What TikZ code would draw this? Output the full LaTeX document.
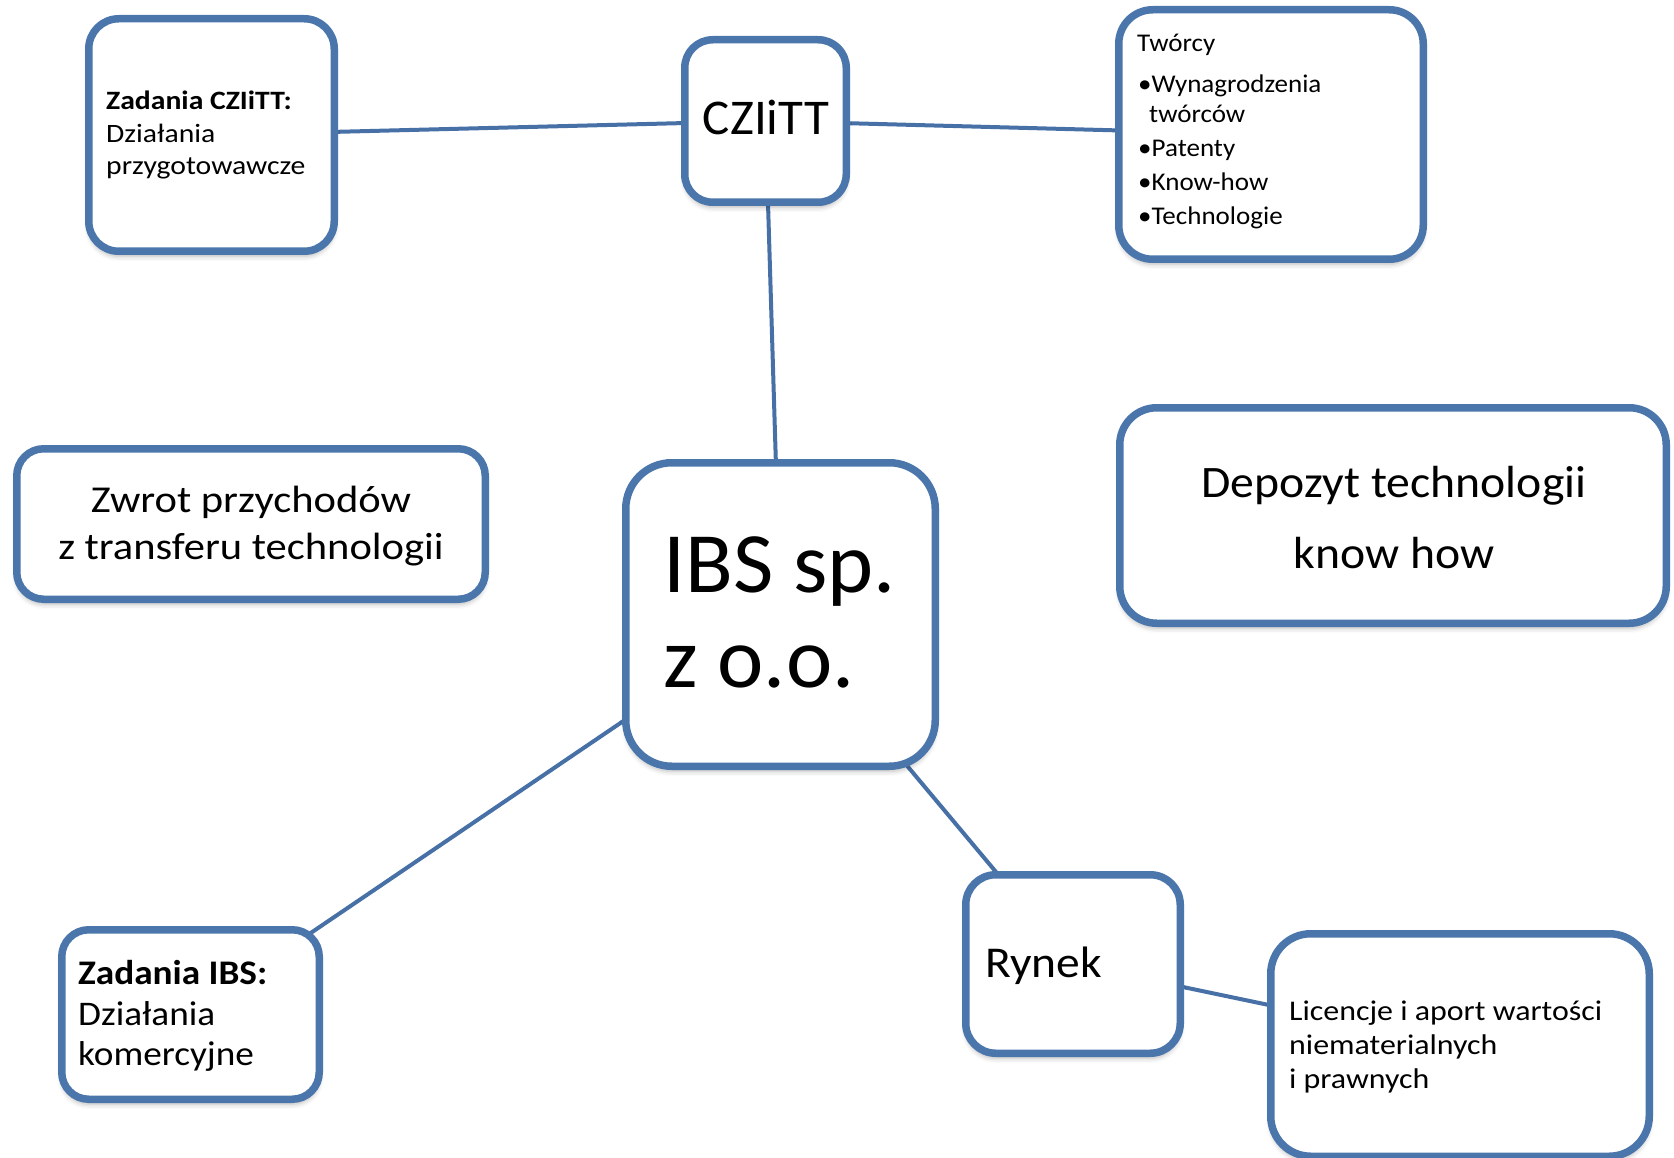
\documentclass[tikz,border=0pt]{standalone}
\usepackage{fontspec}
\setmainfont{Carlito}
\newfontfamily\stA[FakeStretch=1.12]{Carlito}
\newfontfamily\stB[FakeStretch=1.06]{Carlito}
\newfontfamily\stC[FakeStretch=1.08]{Carlito}
\newfontfamily\stD[FakeStretch=1.02]{Carlito}
\usetikzlibrary{shadows.blur}
\pgfdeclarelayer{background}
\pgfsetlayers{background,main}
\definecolor{bordblue}{RGB}{74,118,172}
\definecolor{lineblue}{RGB}{70,112,166}
\newcommand{\fs}[2]{\fontsize{#1}{#2}\selectfont}
\tikzset{
  box/.style={draw=bordblue, line width=7.5pt, fill=white, rectangle, inner sep=0pt,
    blur shadow={shadow xshift=0pt, shadow yshift=-5pt, shadow blur radius=5pt, shadow opacity=28}},
  conn/.style={draw=lineblue, line width=4pt},
  txt/.style={anchor=base west, inner sep=0pt, text=black},
  ctxt/.style={anchor=base, inner sep=0pt, text=black}
}
\begin{document}
\begin{tikzpicture}[x=1pt,y=-1pt]
\useasboundingbox (0,0) rectangle (1674,1158);
% boxes
\node[box, minimum width=245.5pt, minimum height=232.5pt, rounded corners=30pt] (zc) at (211.5,135) {};
\node[box, minimum width=161.5pt, minimum height=162.5pt, rounded corners=28pt] (cz) at (765.5,121) {};
\node[box, minimum width=304.5pt, minimum height=249.5pt, rounded corners=34pt] (tw) at (1271,134.5) {};
\node[box, minimum width=468.5pt, minimum height=150.5pt, rounded corners=27pt] (zw) at (251,524) {};
\node[box, minimum width=309.5pt, minimum height=303.5pt, rounded corners=46pt] (ibs) at (780.5,614.5) {};
\node[box, minimum width=546.5pt, minimum height=215.5pt, rounded corners=37pt] (dep) at (1393,515.5) {};
\node[box, minimum width=257.5pt, minimum height=169.5pt, rounded corners=27pt] (zi) at (190.5,1014.5) {};
\node[box, minimum width=214.5pt, minimum height=178.5pt, rounded corners=30pt] (ry) at (1073,964) {};
\node[box, minimum width=378.5pt, minimum height=222.5pt, rounded corners=40pt] (lic) at (1460,1045) {};
% connectors
\begin{pgfonlayer}{background}
\draw[conn] (zc.center) -- (cz.center);
\draw[conn] (cz.center) -- (tw.center);
\draw[conn] (cz.center) -- (ibs.center);
\draw[conn] (ibs.center) -- (zi.center);
\draw[conn] (ibs.center) -- (ry.center);
\draw[conn] (ry.center) -- (lic.center);
\end{pgfonlayer}
% texts
\node[txt, font=\stA\fs{26.5}{32}] (zc1) at (106,110) {\textbf{Zadania CZIiTT:}};
\node[txt, font=\stA\fs{26.5}{32}] (zc2) at (106,143) {Działania};
\node[txt, font=\stA\fs{26.5}{32}] (zc3) at (106,175) {przygotowawcze};
\node[ctxt, font=\stD\fs{50}{60}] (czt) at (766,135) {CZIiTT};
\node[txt, font=\stB\fs{25.5}{30}] (tw0) at (1137,52) {Twórcy};
\node[txt, font=\stB\fs{25.5}{30}] (tw1) at (1138,93) {•Wynagrodzenia};
\node[txt, font=\stB\fs{25.5}{30}] (tw2) at (1149,123) {twórców};
\node[txt, font=\stB\fs{25.5}{30}] (tw3) at (1138,157) {•Patenty};
\node[txt, font=\stB\fs{25.5}{30}] (tw4) at (1138,191) {•Know-how};
\node[txt, font=\stB\fs{25.5}{30}] (tw5) at (1138,225) {•Technologie};
\node[ctxt, font=\stA\fs{38}{47}] (zw1) at (251,512) {Zwrot przychodów};
\node[ctxt, font=\stA\fs{38}{47}] (zw2) at (251,559) {z transferu technologii};
\node[txt, font=\stD\fs{86}{95}] (ibs1) at (663,592) {IBS sp.};
\node[txt, font=\stD\fs{86}{95}] (ibs2) at (663,687) {z o.o.};
\node[ctxt, font=\stB\fs{45}{71}] (dep1) at (1394,497) {Depozyt technologii};
\node[ctxt, font=\stB\fs{45}{71}] (dep2) at (1394,568) {know how};
\node[txt, font=\stC\fs{34.5}{40}] (zi1) at (78,984) {\textbf{Zadania IBS:}};
\node[txt, font=\stC\fs{34.5}{40}] (zi2) at (78,1025) {Działania};
\node[txt, font=\stC\fs{34.5}{40}] (zi3) at (78,1065) {komercyjne};
\node[txt, font=\stC\fs{44}{50}] (ryt) at (985,977) {Rynek};
\node[txt, font=\stA\fs{28.5}{34}] (lic1) at (1289,1020) {Licencje i aport wartości};
\node[txt, font=\stA\fs{28.5}{34}] (lic2) at (1289,1054) {niematerialnych};
\node[txt, font=\stA\fs{28.5}{34}] (lic3) at (1289,1088) {i prawnych};
\end{tikzpicture}
\end{document}
